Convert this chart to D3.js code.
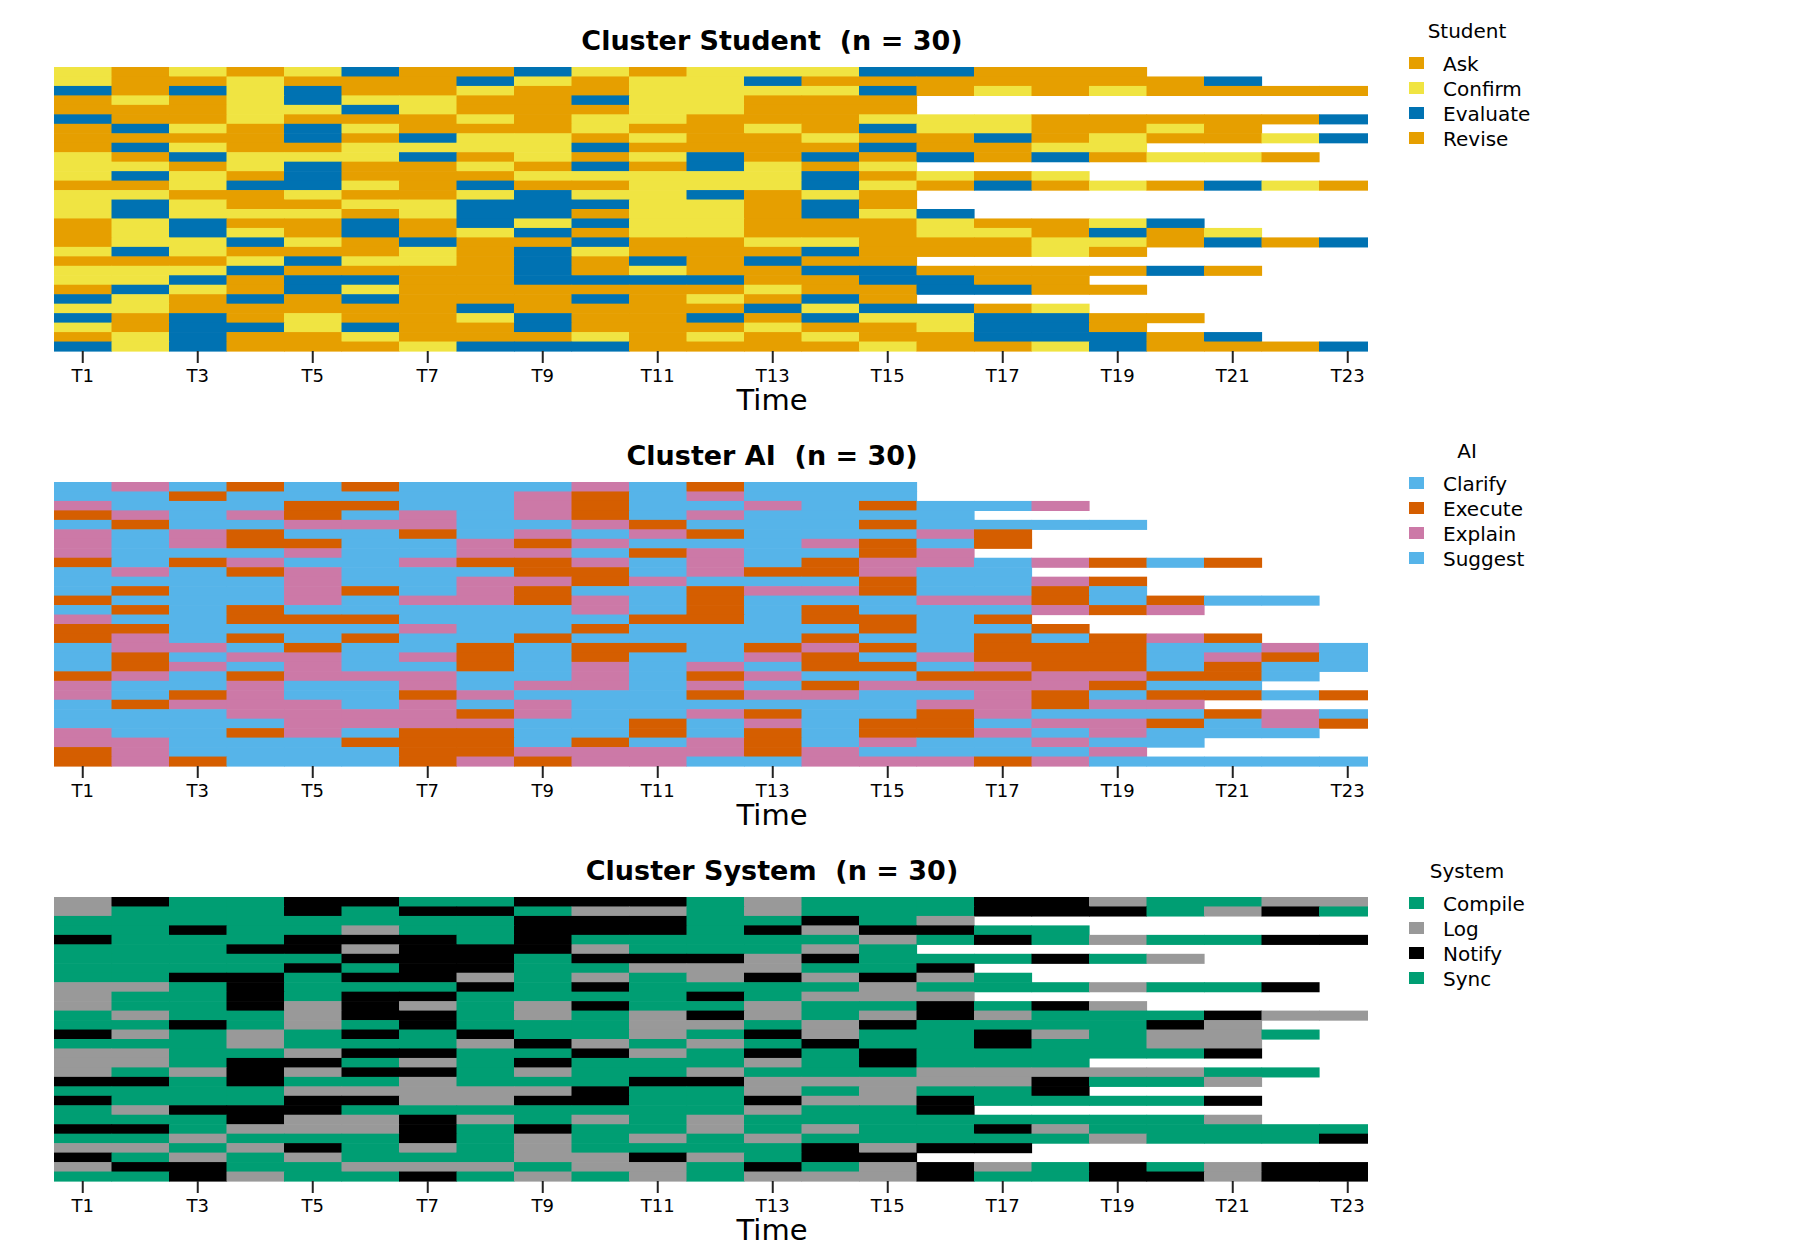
<!DOCTYPE html>
<html lang="en">

<head>
    <meta charset="UTF-8">
    <title>Cluster sequence index plots</title>
    <script src="https://d3js.org/d3.v7.min.js"></script>
    <style>
        body {
            margin: 0;
            padding: 0;
            background: #fff;
            overflow: hidden;
        }

        svg {
            font-family: "DejaVu Sans", sans-serif;
        }

        .panel-title {
            font-size: 27px;
            font-weight: bold;
            white-space: pre;
        }

        .axis-title {
            font-size: 29px;
        }

        .legend-title,
        .legend-text {
            font-size: 20px;
        }
    </style>
</head>

<body>
<div id="chart"></div>

<script>
    // time points and the labels shown under each panel
    const timePoints = ["T1", "T2", "T3", "T4", "T5", "T6", "T7", "T8", "T9", "T10", "T11", "T12",
        "T13", "T14", "T15", "T16", "T17", "T18", "T19", "T20", "T21", "T22", "T23"];
    const tickLabels = ["T1", "T3", "T5", "T7", "T9", "T11", "T13", "T15", "T17", "T19", "T21", "T23"];

    // Student cluster: states, colours, one letter per time point (top row first)
    const studentStates = ["Ask", "Confirm", "Evaluate", "Revise"];
    const studentColors = ["#E69F00", "#F0E442", "#0072B2", "#E69F00"];
    const studentCodes = { O: "Ask", Y: "Confirm", B: "Evaluate", R: "Revise" };
    const studentSeqs = [
        "YOYOYBOOBYOYYYBBOOO",
        "YOOYOOOBYOYYBOOOOOOOB",
        "BOBYBOOYOOYYYYBOYOYOOOO",
        "OYOYBYYOOBYYOOO",
        "OOOYYBYOOOYYOOO",
        "BOOYOOOYOYYOOOYYYOOOOOB",
        "OBYOBYOOOYOOYOBYYOOYO",
        "OOOOBOBYYOYOOYOOBOYOOYB",
        "OBYOOYYYYBOOOOBOOYY",
        "YOBYYYBOYOYBOBOBOBOYYO",
        "YYOYBOOYOBOBYOY",
        "YBYOBOOOYYYYYBOYOY",
        "OOYBBYOBOOYYYBYOBOYOBYO",
        "YYOOYOOYBYYBOYO",
        "YBYOOYYBBBYYOBO",
        "YBYYYOYBBOYYOBYB",
        "OYBOOBOBYBYYOOOYOOYB",
        "OYBYOBOYBOYYOOOYYOBOY",
        "OYYBYOBOOBOOYYOOOYYOBOB",
        "YBYOOOYOBYOOOBOOOYO",
        "OOOYBYYOBOBOBOO",
        "YYYBOOOOBOYOOBBOOOOBO",
        "YYBOBBOOBBBBOOBBOO",
        "OBYOBYOOOOOOYOOBBOO",
        "BYOBOBOOOBOYOBO",
        "YYOOOOOBOOOOBYBBOY",
        "BOBOYOOYBOOBOBYYBBOO",
        "YOBBYBOOBOOOYOOYBBO",
        "OYBOOYOOOYOYOYOOBBBOB",
        "BYBOOOYBBBOOOOYOOYBOOOB"
    ];

    // AI cluster
    const aiStates = ["Clarify", "Execute", "Explain", "Suggest"];
    const aiColors = ["#56B4E9", "#D55E00", "#CC79A7", "#56B4E9"];
    const aiCodes = { S: "Clarify", X: "Execute", P: "Explain", G: "Suggest" };
    const aiSeqs = [
        "SPSXSXSSSPSXSSS",
        "SSXSSSSSPXSPSSS",
        "PSSSXXSSPXSSPSXSSP",
        "XPSPXSPSPXSPSSSS",
        "SXSSPPPSSPXSSSXSSSS",
        "PSPXSSXSPSPXSSSPX",
        "PSPXXSSPXPSSSPXSX",
        "PSSSPSSPPSXPSSXP",
        "XSXPSSPXXPSPSXPPSPXSX",
        "SPSXPSSSXXSPXXPSS",
        "SSSSPSSPPXPSSSXSSPX",
        "SXSSPXSPXSSXPPXSSXS",
        "XSSSPSPPXPSXSSSPPXSXSS",
        "SXSXSSSSSPSXSXSSSPXP",
        "PSSXXXSSSSXXSXXSX",
        "XXSSSSPSSXSSSSXSSX",
        "XPSXSXSSXSSSSXSSXSXPX",
        "SPPSXSSXSXXSXPXSXXXSSPS",
        "SXSPPSPXSXSSPXSPXXXSPXS",
        "SXPSPSSXSPSPSXXSPXXSXSS",
        "XPSXPPPSSPSXPSSXXPPXXS",
        "PSSPSSPSPPSPSXPPPPXSS",
        "PSXPSSXPSSSXPPSSPXSXXSX",
        "SXPPPSPSPSSSSSSPPXPP",
        "SSSPPPPXPSSPXSSXPSSSXPS",
        "SSSSPPPPSSXSPSXXSPPXSPX",
        "PSSXPSXXSSXSXSXXPSPSSS",
        "PPSSSXXXSXSPXSPSSPSS",
        "XPSSSSXXPPPPXPSSSSP",
        "XPXSSSXPXPPSSPPPXPSSSSS"
    ];

    // System cluster
    const systemStates = ["Compile", "Log", "Notify", "Sync"];
    const systemColors = ["#009E73", "#999999", "#000000", "#009E73"];
    const systemCodes = { G: "Compile", L: "Log", N: "Notify", Y: "Sync" };
    const systemSeqs = [
        "LNGGNNGGNNNGLGGGNNLGGLL",
        "LGGGNGNNGLLGLGGGNNNGLNG",
        "GGGGGGGGNNNGGNGL",
        "GGNGGLGGNNNGNLNNGG",
        "NGGGNNNGNGGGGGLGNGLGGNN",
        "GGGNNLNNNLGGGLG",
        "GGGGGNNNGNNNLNGGGNGL",
        "GGGGNGNNGGLLLGGN",
        "GGNNGNNLGLGLNLNLG",
        "LLGNGGGNGNGGGGLGGGLGGN",
        "LGGNGNNGGGGNGLLL",
        "LGGNLNLGLNGGLGGNGNL",
        "GLGGLNNGLGLNLGLNLGGGNLL",
        "GGNGLGNGGGLLGLNGGGGNL",
        "NLGLGNGNGGLGNLGGNLGLLG",
        "GGGLGGGLNLGLGNGGNGGLL",
        "LLGGLNNGGNLGNGNGGGGGN",
        "LLGNNGLGNGGGLGNGGG",
        "LGLNLNNGLGGLGGGLLLLLGG",
        "NNGNGGLGGGNNLLLLLNGGL",
        "GGGGLLLLLNGGLGLGGN",
        "NGGGNNLLNNGGNLLNGGGGN",
        "GLNNNGGGGGGGLGGN",
        "GGGNLLNLGLGLGGGGGGGGL",
        "NNGLLLNGNGGLGLGGNLGGGGG",
        "GGLGGGNGLGLGLGGGGGLGGGN",
        "LLGLNGLGLGGGGNLNN",
        "NGLGLGGGLLNLGNN",
        "LNNGGLLLGLLGNGLNLGNGLNN",
        "GGNLGGNGLGLGLLLNGGNNLNN"
    ];

    const panels = [
        { title: "Cluster Student  (n = 30)", legendTitle: "Student", states: studentStates, colors: studentColors, codes: studentCodes, seqs: studentSeqs },
        { title: "Cluster AI  (n = 30)", legendTitle: "AI", states: aiStates, colors: aiColors, codes: aiCodes, seqs: aiSeqs },
        { title: "Cluster System  (n = 30)", legendTitle: "System", states: systemStates, colors: systemColors, codes: systemCodes, seqs: systemSeqs }
    ];

    // layout
    const width = 1800, height = 1260;
    const plotLeft = 54, plotRight = 1376.5, plotClip = 1368;
    const panelTop = 67, panelStep = 415, plotHeight = 284;
    const legendStep = 420;
    const centerX = 772;
    const legendX = 1409;

    const svg = d3.select("#chart")
        .append("svg")
        .attr("width", width)
        .attr("height", height);

    // the last time column is cut off at the plot edge
    svg.append("defs")
        .append("clipPath")
        .attr("id", "plot-clip")
        .append("rect")
        .attr("x", plotLeft)
        .attr("y", -2)
        .attr("width", plotClip - plotLeft)
        .attr("height", plotHeight + 4);

    const xScale = d3.scaleBand()
        .domain(timePoints)
        .range([plotLeft, plotRight])
        .padding(0);

    panels.forEach((p, k) => {
        const top = panelTop + k * panelStep;
        const g = svg.append("g").attr("transform", `translate(0,${top})`);

        const yScale = d3.scaleBand()
            .domain(d3.range(p.seqs.length))
            .range([0, plotHeight])
            .padding(0);

        const colorScale = d3.scaleOrdinal()
            .domain(p.states)
            .range(p.colors);

        // one cell per sequence and time point
        const cells = p.seqs.flatMap((s, row) =>
            s.split("").map((c, i) => ({ row: row, time: timePoints[i], state: p.codes[c] })));

        g.append("g")
            .attr("clip-path", "url(#plot-clip)")
            .selectAll("rect.cell")
            .data(cells)
            .join("rect")
            .attr("class", "cell")
            .attr("x", d => xScale(d.time))
            .attr("y", d => yScale(d.row))
            .attr("width", xScale.bandwidth() + 0.6)
            .attr("height", yScale.bandwidth() + 0.6)
            .attr("fill", d => colorScale(d.state));

        // x axis
        const axis = g.append("g")
            .attr("transform", `translate(0,${plotHeight})`)
            .call(d3.axisBottom(xScale).tickValues(tickLabels).tickSize(12).tickPadding(6));
        axis.select(".domain").remove();
        axis.attr("font-size", 18).attr("font-family", "DejaVu Sans, sans-serif");
        axis.selectAll(".tick line").attr("stroke", "#222").attr("stroke-width", 2);
        axis.selectAll(".tick text").attr("fill", "#000");

        g.append("text")
            .attr("class", "axis-title")
            .attr("x", centerX)
            .attr("y", plotHeight + 59)
            .attr("text-anchor", "middle")
            .text("Time");

        // panel title
        svg.append("text")
            .attr("class", "panel-title")
            .attr("x", centerX)
            .attr("y", 50 + k * panelStep)
            .attr("text-anchor", "middle")
            .text(p.title);

        // legend
        const lg = svg.append("g").attr("transform", `translate(${legendX},${k * legendStep})`);
        lg.append("text")
            .attr("class", "legend-title")
            .attr("x", 58)
            .attr("y", 38)
            .attr("text-anchor", "middle")
            .text(p.legendTitle);

        const items = lg.selectAll(".legend-item")
            .data(p.states)
            .join("g")
            .attr("class", "legend-item")
            .attr("transform", (d, i) => `translate(0,${63 + i * 25})`);

        items.append("rect")
            .attr("x", 0)
            .attr("y", -6)
            .attr("width", 15)
            .attr("height", 12)
            .attr("fill", d => colorScale(d));

        items.append("text")
            .attr("class", "legend-text")
            .attr("x", 34)
            .attr("y", 7.5)
            .text(d => d);
    });
</script>
</body>

</html>
